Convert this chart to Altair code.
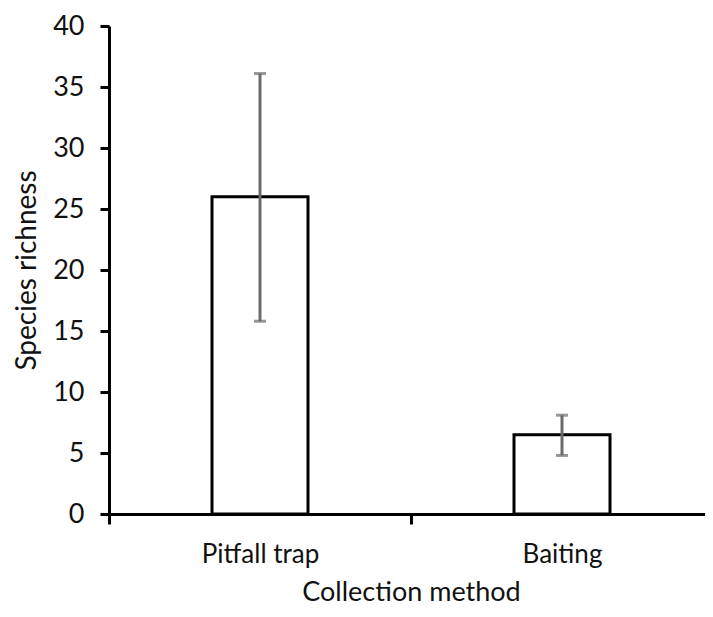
import altair as alt
import pandas as pd

categories = ["Pitfall trap", "Baiting"]
means = [26.0, 6.5]
lower = [15.8, 4.8]
upper = [36.1, 8.1]

df = pd.DataFrame({"method": categories, "mean": means, "lo": lower, "hi": upper})

FONT = "Lato"

x_scale = alt.Scale(paddingInner=0, paddingOuter=0, range=[0, 604])

x = alt.X(
    "method:N",
    sort=categories,
    scale=x_scale,
    axis=alt.Axis(
        title="Collection method",
        labelAngle=0,
        tickBand="extent",
        tickSize=10,
        tickWidth=3,
        tickColor="black",
        domainColor="black",
        domainWidth=3,
        labelFontSize=26,
        labelFont=FONT,
        labelColor="#111111",
        labelPadding=17,
        titleFontSize=27,
        titleFont=FONT,
        titleFontWeight="normal",
        titleColor="#111111",
        titlePadding=12,
    ),
)

y_scale = alt.Scale(domain=[0, 40])
y_axis = alt.Axis(
    title="Species richness",
    values=[0, 5, 10, 15, 20, 25, 30, 35, 40],
    grid=False,
    tickSize=9,
    tickWidth=3,
    tickColor="black",
    domainColor="black",
    domainWidth=3,
    labelFontSize=27,
    labelFont=FONT,
    labelColor="#111111",
    labelPadding=16,
    titleFontSize=28,
    titleFont=FONT,
    titleFontWeight="normal",
    titleColor="#111111",
    titlePadding=11,
)

bars = alt.Chart(df).mark_bar(
    width=96, fill="white", stroke="black", strokeWidth=3
).encode(x=x, y=alt.Y("mean:Q", scale=y_scale, axis=y_axis))

rule = alt.Chart(df).mark_rule(color="#6b6b6b", strokeWidth=3).encode(
    x=alt.X("method:N", sort=categories, scale=x_scale),
    y=alt.Y("lo:Q", scale=y_scale),
    y2="hi:Q",
)

cap_hi = alt.Chart(df).mark_tick(color="#6b6b6b", thickness=3, size=12).encode(
    x=alt.X("method:N", sort=categories, scale=x_scale),
    y=alt.Y("hi:Q", scale=y_scale),
)
cap_lo = alt.Chart(df).mark_tick(color="#6b6b6b", thickness=3, size=12).encode(
    x=alt.X("method:N", sort=categories, scale=x_scale),
    y=alt.Y("lo:Q", scale=y_scale),
)

chart = (
    alt.layer(bars, rule, cap_hi, cap_lo)
    .properties(
        width=596,
        height=488,
        padding={"left": 101, "top": 18, "right": 0, "bottom": 95},
        autosize=alt.AutoSizeParams(type="none"),
        background="white",
    )
    .configure_view(stroke=None)
)

chart.save("out.html", embed_options={"renderer": "svg", "actions": False})
